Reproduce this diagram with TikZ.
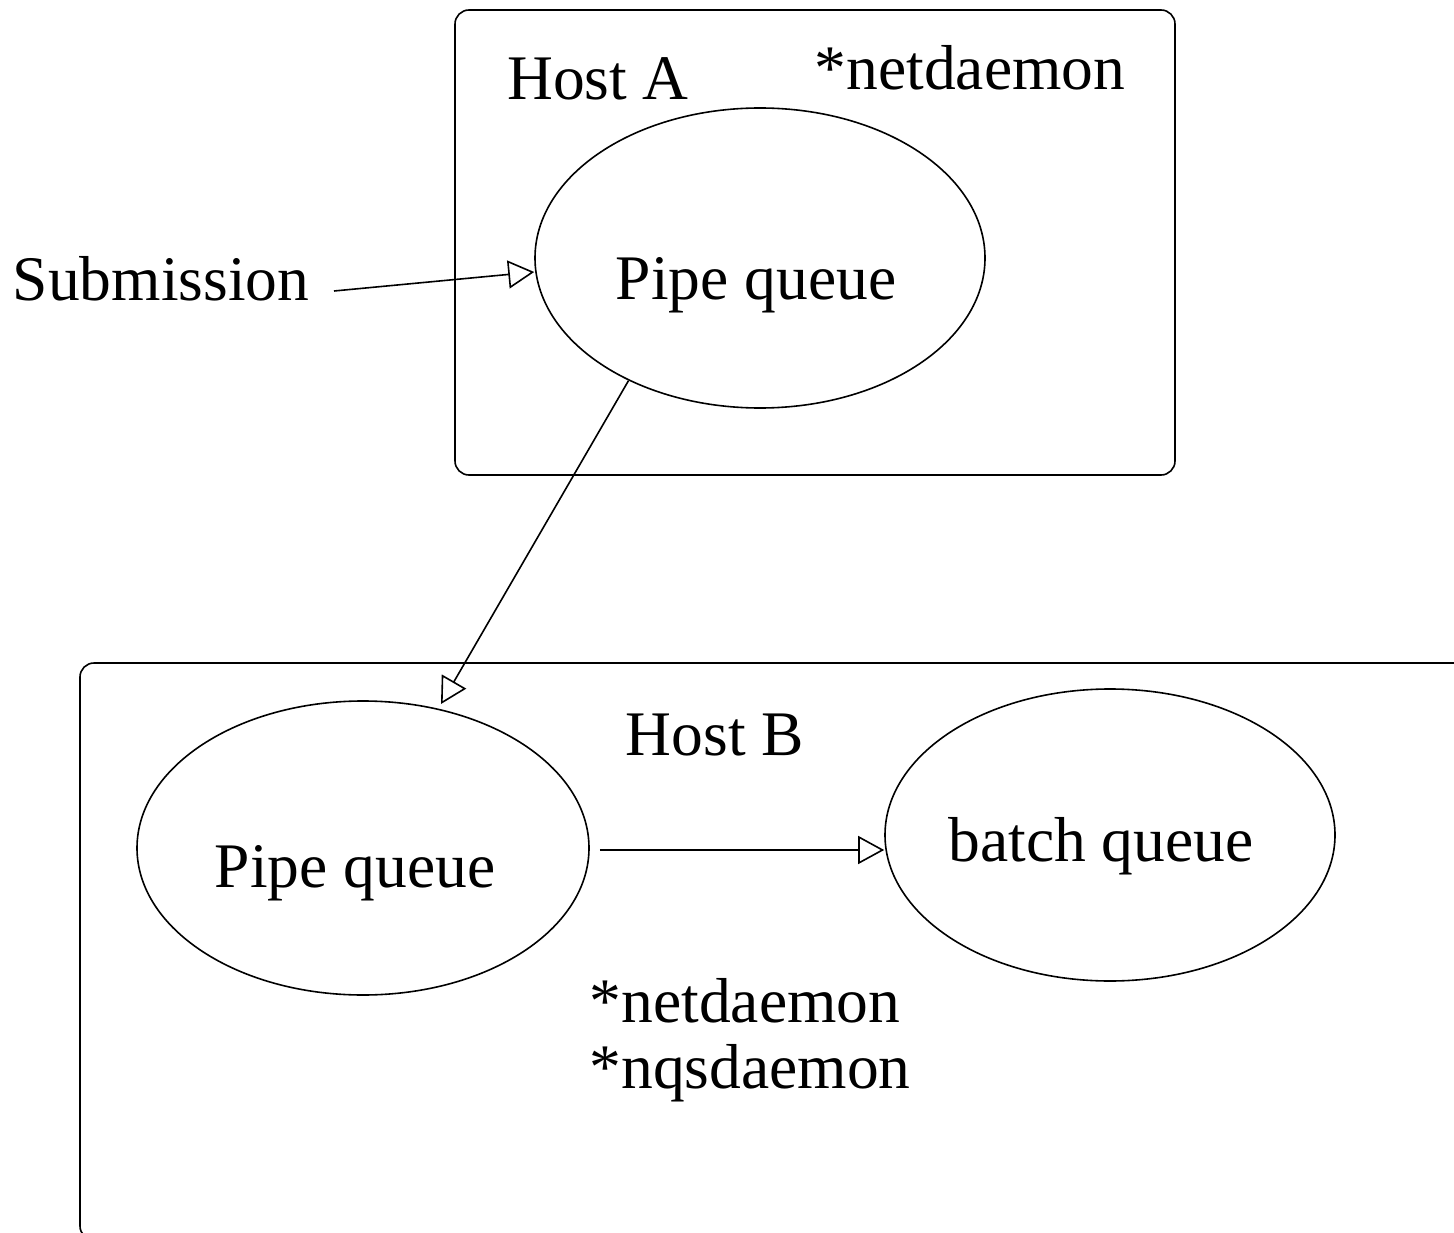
\documentclass[tikz,border=0pt]{standalone}
\usepackage{fontspec}
\setmainfont{Liberation Serif}
\usetikzlibrary{arrows.meta,shapes.geometric}
\begin{document}
\begin{tikzpicture}[x=1pt,y=-1pt,
  line width=1.6pt,
  hostbox/.style={draw,rounded corners=14pt},
  queue/.style={draw,ellipse,inner sep=0pt},
  txt/.style={font=\fontsize{63.5}{70}\selectfont,inner sep=0pt,anchor=base},
  flow/.style={-{Triangle[open,length=26pt,width=28pt,line width=1.6pt]}}]
\useasboundingbox (0,0) rectangle (1454,1233);
\clip (0,0) rectangle (1454,1233);
% hosts
\draw[hostbox] (455,10) rectangle (1175,475);
\draw[hostbox] (80,663) rectangle (1480,1240);
% queues
\node[queue,minimum width=450pt,minimum height=300pt] (pa) at (760,258) {};
\node[queue,minimum width=452pt,minimum height=294pt] (pb) at (363,848) {};
\node[queue,minimum width=450pt,minimum height=292pt] (bq) at (1110,835) {};
% labels (placed on their baselines)
\node[txt] (ha) at (598,100) {Host A};
\node[txt] (nda) at (970,90) {*netdaemon};
\node[txt] (pal) at (756,300) {Pipe queue};
\node[txt] (sub) at (161,301) {Submission};
\node[txt] (hb) at (715,755) {Host B};
\node[txt] (pbl) at (355,887) {Pipe queue};
\node[txt] (bql) at (1101,861) {batch queue};
\node[txt] (ndb) at (745,1022) {*netdaemon};
\node[txt] (nqs) at (750,1088) {*nqsdaemon};
% connectors
\coordinate (subend) at (334,291);
\coordinate (pbin) at (441,704);
\draw[flow] (subend) -- (pa.west |- 0,272);
\draw[flow] (pa.-137) -- (pbin);
\draw[flow,shorten <=10pt] (pb.east |- 0,850) -- (bq.west |- 0,850);
\end{tikzpicture}
\end{document}
